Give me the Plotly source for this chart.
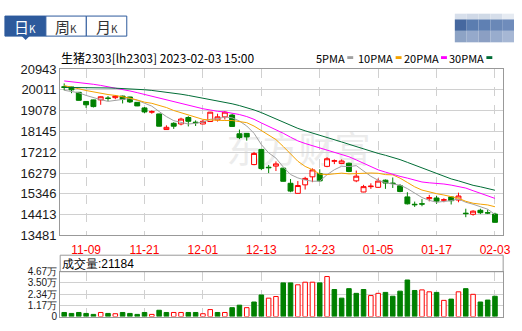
import plotly.graph_objects as go

# ---------------- data ----------------
dates = ["11-04", "11-07", "11-08", "11-09", "11-10", "11-11", "11-14", "11-15", "11-16", "11-17",
         "11-18", "11-21", "11-22", "11-23", "11-24", "11-25", "11-28", "11-29", "11-30", "12-01",
         "12-02", "12-05", "12-06", "12-07", "12-08", "12-09", "12-12", "12-13", "12-14", "12-15",
         "12-16", "12-19", "12-20", "12-21", "12-22", "12-23", "12-26", "12-27", "12-28", "12-29",
         "12-30", "01-03", "01-04", "01-05", "01-06", "01-09", "01-10", "01-11", "01-12", "01-13",
         "01-16", "01-17", "01-18", "01-19", "01-20", "01-30", "01-31", "02-01", "02-02", "02-03"]

opens = [20150, 20140, 19900, 19490, 19560, 19560, 19640, 19660, 19730, 19690,
         19450, 19200, 19010, 18930, 18230, 18510, 18480, 18770, 18560, 18480,
         18590, 18660, 18800, 18880, 18040, 18060, 16660, 17340, 16540, 16590,
         16500, 15820, 15370, 15750, 16110, 16260, 16580, 16810, 16710, 16720,
         15930, 15430, 15670, 15640, 15960, 15830, 15710, 15210, 14880, 14900,
         15130, 15160, 15060, 15210, 15070, 14480, 14430, 14610, 14500, 14440]
highs = [20300, 20150, 19910, 19500, 19570, 19720, 19730, 19780, 19750, 19700,
         19460, 19240, 19090, 18940, 18420, 18560, 18760, 18830, 18640, 18660,
         19020, 18940, 19060, 18940, 18230, 18070, 17230, 17350, 16640, 16800,
         16510, 16010, 15920, 16110, 16490, 16450, 16990, 16890, 16890, 16750,
         16390, 15750, 15820, 16040, 15990, 16080, 15780, 15420, 15000, 15110,
         15300, 15250, 15150, 15250, 15400, 14680, 14610, 14680, 14640, 14500]
lows = [19990, 19860, 19530, 19200, 19220, 19340, 19510, 19590, 19400, 19420,
        19280, 18970, 18940, 18370, 18220, 18260, 18420, 18370, 18390, 18470,
        18580, 18590, 18680, 18350, 17800, 17730, 16630, 16410, 16280, 16370,
        15900, 15420, 15360, 15540, 15870, 15900, 16540, 16680, 16680, 16320,
        15870, 15420, 15570, 15610, 15570, 15610, 15420, 14870, 14760, 14790,
        15010, 14900, 14970, 14870, 14970, 14300, 14370, 14440, 14440, 14060]
closes = [20120, 20010, 19540, 19340, 19260, 19700, 19630, 19730, 19590, 19470,
          19290, 19020, 19030, 18380, 18330, 18380, 18700, 18600, 18540, 18600,
          19010, 18800, 19010, 18370, 17870, 17900, 17160, 16480, 16520, 16690,
          15910, 15470, 15720, 16040, 16420, 15930, 16920, 16830, 16820, 16350,
          16140, 15670, 15690, 15920, 15830, 15810, 15450, 14900, 14860, 14890,
          15180, 15020, 15080, 15040, 15250, 14460, 14570, 14500, 14490, 14070]
volumes = [4300, 3300, 4300, 3300, 2300, 4300, 3300, 3000, 4300, 3300,
           2300, 4300, 2300, 6600, 4300, 4300, 4300, 4300, 4300, 3000,
           7300, 4300, 4300, 9300, 11900, 9300, 15200, 22500, 19200, 20900,
           35100, 35100, 33100, 35800, 35800, 35100, 41700, 28200, 19200, 29100,
           24200, 28200, 21900, 24200, 25200, 21200, 26500, 38100, 27200, 27800,
           25800, 25200, 16900, 18200, 25800, 29100, 23200, 15200, 17200, 21184]

ma5 = [19990, 19950, 19880, 19760, 19654, 19570, 19494, 19532, 19582, 19624,
       19542, 19424, 19280, 19038, 18810, 18628, 18560, 18478, 18510, 18564,
       18690, 18710, 18792, 18758, 18612, 18390, 18062, 17556, 17186, 16950,
       16552, 16214, 16062, 15966, 15912, 15916, 16206, 16428, 16584, 16570,
       16612, 16362, 16134, 15954, 15850, 15784, 15740, 15582, 15370, 15182,
       15056, 14970, 15006, 15042, 15114, 14970, 14880, 14764, 14658, 14422]
ma10 = [20200, 20140, 20060, 19980, 19910, 19850, 19800, 19760, 19710, 19639,
        19556, 19459, 19406, 19310, 19217, 19085, 18992, 18879, 18774, 18687,
        18659, 18635, 18635, 18634, 18588, 18540, 18386, 18174, 17972, 17781,
        17471, 17138, 16809, 16576, 16431, 16234, 16210, 16245, 16275, 16241,
        16264, 16284, 16281, 16269, 16210, 16198, 16051, 15858, 15662, 15516,
        15420, 15355, 15294, 15206, 15148, 15013, 14925, 14885, 14850, 14768]
ma20 = [20410, 20380, 20345, 20305, 20260, 20210, 20155, 20095, 20030, 19960,
        19885, 19805, 19720, 19630, 19540, 19450, 19370, 19295, 19225, 19163,
        19108, 19047, 19021, 18972, 18903, 18813, 18689, 18527, 18373, 18234,
        18065, 17887, 17722, 17605, 17510, 17387, 17298, 17210, 17124, 17011,
        16868, 16711, 16545, 16423, 16321, 16216, 16131, 16052, 15969, 15879,
        15842, 15820, 15788, 15738, 15679, 15606, 15488, 15372, 15256, 15142]
ma30 = [20120, 20120, 20115, 20110, 20105, 20100, 20095, 20085, 20075, 20060,
        20040, 20015, 19985, 19950, 19910, 19865, 19815, 19760, 19700, 19640,
        19580, 19520, 19455, 19385, 19305, 19215, 19110, 18990, 18850, 18702,
        18562, 18411, 18283, 18173, 18079, 17953, 17863, 17766, 17674, 17570,
        17465, 17352, 17242, 17160, 17076, 16991, 16882, 16759, 16636, 16513,
        16385, 16259, 16128, 16017, 15930, 15815, 15729, 15663, 15596, 15508]

price_ticks = [13481, 14413, 15346, 16279, 17212, 18145, 19078, 20011, 20943]
vol_ticks = [0, 11700, 23400, 35000, 46700]
vol_tick_text = ["0", "1.17万", "2.34万", "3.50万", "4.67万"]
date_ticks = ["11-09", "11-21", "12-01", "12-13", "12-23", "01-05", "01-17", "02-03"]
title_text = "生猪2303[lh2303] 2023-02-03 15:00"
ma_names = ["5PMA", "10PMA", "20PMA", "30PMA"]
tab_names = ["日", "周", "月"]
watermark = "东方财富"

# ---------------- style ----------------
W, H = 522, 331
RED = "#ff0000"
GREEN = "#008000"
MA_COLORS = ["#a0a0a0", "#f5a300", "#ff00ff", "#006d36"]
BLUE = "#2d5a9c"
CJK = "Noto Sans CJK SC"
NUM = "Liberation Sans"


def px(x):
    return x / W


def py(y):
    return 1 - y / H


XR = [-0.55, 60.12]
XDOM = [px(61), px(510)]

fig = go.Figure()

fig.add_trace(go.Candlestick(
    x=dates, open=opens, high=highs, low=lows, close=closes,
    increasing=dict(line=dict(color=RED, width=1), fillcolor="#ffffff"),
    decreasing=dict(line=dict(color=GREEN, width=1), fillcolor=GREEN),
    whiskerwidth=0, hoverinfo="skip", showlegend=False, xaxis="x", yaxis="y"))

for vals, col in zip([ma5, ma10, ma20, ma30], MA_COLORS):
    fig.add_trace(go.Scatter(x=dates, y=vals, mode="lines", line=dict(color=col, width=1),
                             hoverinfo="skip", showlegend=False, xaxis="x", yaxis="y"))

up = [closes[0] >= opens[0]] + [closes[i] >= closes[i - 1] for i in range(1, len(closes))]
fig.add_trace(go.Bar(
    x=dates, y=volumes, width=0.62,
    marker=dict(color=["#ffffff" if u else GREEN for u in up],
                line=dict(color=[RED if u else GREEN for u in up], width=1)),
    hoverinfo="skip", showlegend=False, xaxis="x2", yaxis="y2"))

axis_common = dict(showline=True, linecolor="#999999", linewidth=1, mirror=True, ticks="",
                   zeroline=False, fixedrange=True)

fig.update_layout(
    width=W, height=H, margin=dict(l=0, r=0, t=0, b=0),
    paper_bgcolor="#ffffff", plot_bgcolor="#ffffff",
    boxgap=0.18, boxgroupgap=0.18, bargap=0.3,
    showlegend=False,
    xaxis=dict(domain=XDOM, type="category", range=XR, anchor="y",
               tickvals=date_ticks, ticktext=date_ticks, ticklabelstandoff=3,
               tickfont=dict(family=NUM, size=12, color=RED),
               showgrid=True, gridcolor="#d0d0d0", griddash="dash", gridwidth=1,
               rangeslider=dict(visible=False), **axis_common),
    yaxis=dict(domain=[py(239.3), py(65)], range=[price_ticks[0], price_ticks[-1]], anchor="x",
               tickvals=price_ticks, ticktext=[str(v) for v in price_ticks],
               tickfont=dict(family=NUM, size=13, color="#1a1a1a"),
               showgrid=True, gridcolor="#d0d0d0", gridwidth=1, **axis_common),
    xaxis2=dict(domain=XDOM, type="category", range=XR, anchor="y2",
                tickvals=date_ticks, showticklabels=False,
                showgrid=True, gridcolor="#d0d0d0", griddash="dash", gridwidth=1, **axis_common),
    yaxis2=dict(domain=[py(324.3), py(277.3)], range=[0, vol_ticks[-1]], anchor="x2",
                tickvals=vol_ticks, ticktext=vol_tick_text,
                tickfont=dict(family=NUM, size=10, color="#1a1a1a"),
                showgrid=True, gridcolor="#d0d0d0", gridwidth=1, **axis_common),
)

shapes = []
annotations = []

# watermark (below traces)
shapes.append(dict(type="rect", xref="paper", yref="paper", x0=px(195), x1=px(410), y0=py(180),
                   y1=py(125), line=dict(width=0), fillcolor="rgba(0,0,0,0)", layer="below",
                   label=dict(text=watermark, font=dict(family=CJK, size=36, color="#ececec"))))

# volume header box
shapes.append(dict(type="rect", xref="paper", yref="paper", x0=px(61), x1=px(510), y0=py(277.3),
                   y1=py(260), line=dict(color="#999999", width=1)))
annotations.append(dict(xref="paper", yref="paper", x=px(62), y=py(269.5), xanchor="left",
                        yanchor="middle", showarrow=False, text="成交量:%d" % volumes[-1],
                        borderpad=0, height=14, valign="middle",
                        font=dict(family=NUM, size=12, color="#000000")))

# title
annotations.append(dict(xref="paper", yref="paper", x=px(61), y=py(53), xanchor="left",
                        yanchor="middle", showarrow=False, text=title_text, borderpad=0,
                        font=dict(family=CJK, size=12, color="#000000")))

# MA legend: text ends just before its colour swatch
swatch_x = [352, 401, 447, 493]
for name, col, sx in zip(ma_names, MA_COLORS, swatch_x):
    annotations.append(dict(xref="paper", yref="paper", x=px(sx - 1.5), y=py(53), xanchor="right",
                            yanchor="middle", showarrow=False, text=name, borderpad=0,
                            font=dict(family=CJK, size=11, color="#000000")))
    shapes.append(dict(type="rect", xref="paper", yref="paper", x0=px(sx), x1=px(sx + 6),
                       y0=py(54.5), y1=py(51.5), line=dict(width=0), fillcolor=col))

# tabs
tab_edges = [5, 46.5, 87.5, 128.5]
for i, name in enumerate(tab_names):
    sel = i == 0
    shapes.append(dict(type="rect", xref="paper", yref="paper", x0=px(tab_edges[i]),
                       x1=px(tab_edges[i + 1]), y0=py(30.5), y1=py(9.5),
                       line=dict(color=BLUE, width=1), fillcolor=BLUE if sel else "#ffffff"))
    annotations.append(dict(xref="paper", yref="paper",
                            x=px((tab_edges[i] + tab_edges[i + 1]) / 2), y=py(20.5),
                            xanchor="center", yanchor="middle", showarrow=False,
                            text=name + "<span style='font-size:10px'>K</span>", borderpad=0,
                            font=dict(family=CJK, size=15,
                                      color="#ffffff" if sel else "#333333")))
shapes.append(dict(type="path", xref="paper", yref="paper",
                   path="M %f %f L %f %f L %f %f Z" % (px(22), py(30.5), px(30), py(30.5),
                                                      px(26), py(34.5)),
                   line=dict(width=0), fillcolor=BLUE))

# blurred icon top-right
icon_rows = [
    ["#d7dfeb", "#d0d9e7", "#cfd9e6", "#d6deea", "#e6ebf2"],
    ["#46689f", "#5b7db0", "#5f80b3", "#6a88b7", "#6f8cbb"],
    ["#8da3c5", "#95a9cb", "#8b9fc3", "#98accd", "#a6b7d4"],
]
row_y = [(7, 13), (13, 25), (25, 37)]
for r, cols in enumerate(icon_rows):
    for c, colr in enumerate(cols):
        shapes.append(dict(type="rect", xref="paper", yref="paper", x0=px(461 + 12 * c),
                           x1=px(461 + 12 * (c + 1)), y0=py(row_y[r][1]), y1=py(row_y[r][0]),
                           line=dict(width=0), fillcolor=colr))

fig.update_layout(shapes=shapes, annotations=annotations)
fig.write_html("out.html")
